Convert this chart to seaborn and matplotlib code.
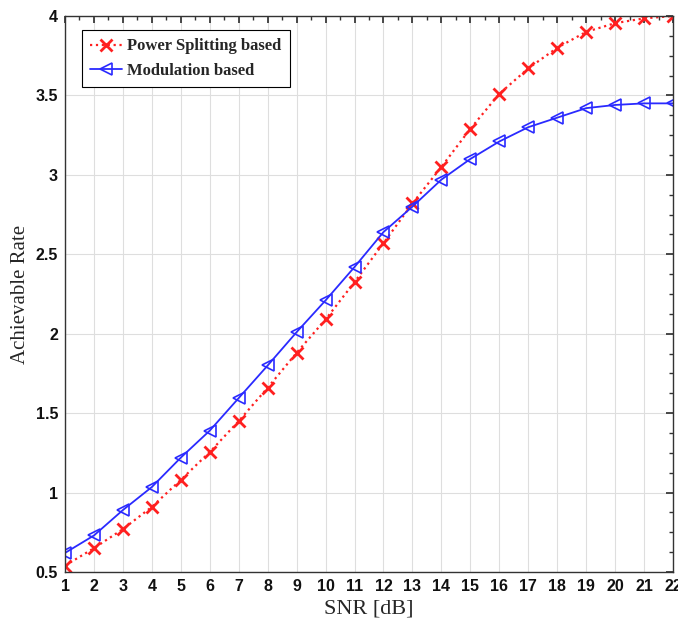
import matplotlib
matplotlib.use("Agg")
import matplotlib.pyplot as plt
import seaborn as sns
import numpy as np
import pandas as pd
from matplotlib.ticker import MultipleLocator

snr = list(range(1, 23))
power_splitting = [0.54, 0.65, 0.77, 0.91, 1.08, 1.255, 1.45, 1.66, 1.88, 2.09,
                   2.325, 2.57, 2.82, 3.05, 3.29, 3.51, 3.67, 3.80, 3.90, 3.955, 3.985, 4.0]
modulation = [0.62, 0.73, 0.89, 1.035, 1.22, 1.39, 1.595, 1.80, 2.01, 2.21,
              2.42, 2.64, 2.80, 2.97, 3.10, 3.21, 3.30, 3.36, 3.42, 3.44, 3.45, 3.45]
series_names = ["Power Splitting based", "Modulation based"]

df = pd.DataFrame({
    "SNR": snr * 2,
    "Rate": power_splitting + modulation,
    "Scheme": [series_names[0]] * len(snr) + [series_names[1]] * len(snr),
})

sns.set_theme(style="whitegrid")
plt.rcParams['font.family'] = ['Liberation Sans', 'DejaVu Sans']

fig = plt.figure(figsize=(6.78, 6.24), dpi=100)
ax = fig.add_axes([65/678, 52/624, 608/678, 556/624])

sns.lineplot(data=df[df.Scheme == series_names[0]], x="SNR", y="Rate", ax=ax,
             color="#ff2020", linestyle=":", linewidth=1.6, marker="x",
             markersize=8, markeredgewidth=2, markeredgecolor="#ff2020",
             label=series_names[0])
sns.lineplot(data=df[df.Scheme == series_names[1]], x="SNR", y="Rate", ax=ax,
             color="#2a2aff", linestyle="-", linewidth=1.3, marker="<",
             markersize=9, markerfacecolor="none", markeredgewidth=1.2,
             markeredgecolor="#2a2aff", label=series_names[1])

ax.set_xlim(1, 22)
ax.set_ylim(0.5, 4)
ax.set_xticks(snr)
ax.set_yticks([0.5, 1, 1.5, 2, 2.5, 3, 3.5, 4])
ax.set_yticklabels(["0.5", "1", "1.5", "2", "2.5", "3", "3.5", "4"])
ax.xaxis.set_minor_locator(MultipleLocator(0.5))
ax.yaxis.set_minor_locator(MultipleLocator(0.125))
ax.grid(True, which="major", color="#dedede", linewidth=0.8)
ax.grid(False, which="minor")
ax.set_facecolor("white")
for s in ax.spines.values():
    s.set_color("#333333")
    s.set_linewidth(1.0)
ax.tick_params(which="both", direction="in", top=True, right=True, colors="#333333")
ax.tick_params(which="major", length=5, labelsize=11.5, labelcolor="#111111", pad=5)
ax.tick_params(which="minor", length=3)
for lbl in ax.get_xticklabels() + ax.get_yticklabels():
    lbl.set_fontweight("semibold")

ax.set_xlabel("SNR [dB]", fontsize=16, family="Liberation Serif", labelpad=4)
ax.set_ylabel("Achievable Rate", fontsize=15, family="Liberation Serif", labelpad=4)

leg = ax.legend(loc="upper left", prop={"family": "Liberation Serif", "size": 12, "weight": "bold"},
                frameon=True, fancybox=False, edgecolor="black", framealpha=1,
                handlelength=1.9, handletextpad=0.3, borderpad=0.5, labelspacing=0.5,
                bbox_to_anchor=((82 - 65) / 608, (572 - 30) / 556), borderaxespad=0)
leg.get_frame().set_linewidth(0.8)

fig.savefig("out.png", dpi=100)
